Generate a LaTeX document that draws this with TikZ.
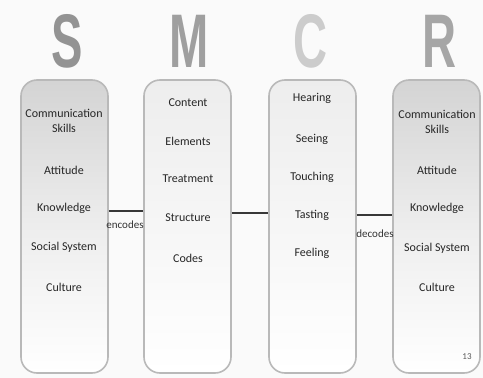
\documentclass[tikz,border=0pt]{standalone}
\usepackage{fontspec}
\setmainfont{Carlito}
\newfontfamily\letterfont{Liberation Sans}
\usetikzlibrary{calc}
\begin{document}
\begin{tikzpicture}[x=1pt,y=-1pt,
  col/.style={draw=gray!55, line width=1.6pt, rounded corners=16pt,
    minimum width=87pt, minimum height=293pt, inner sep=0pt},
  darkcol/.style={col, top color=gray!34, bottom color=white, middle color=gray!14},
  lightcol/.style={col, top color=gray!14, bottom color=white},
  item/.style={font=\fontsize{12}{12}\selectfont, text=black!85, align=center, inner sep=0pt},
  big/.style={font=\letterfont\bfseries\fontsize{76}{76}\selectfont, xscale=0.62, inner sep=0pt},
  link/.style={line width=2.8pt, draw=black!78},
  lab/.style={font=\fontsize{11}{11}\selectfont, text=black!80, inner sep=0pt}
]
\useasboundingbox (0,0) rectangle (483,378);
\fill[gray!4] (0,0) rectangle (483,378);

% column letters
\node[big, text=gray!85] (LS) at (67,41) {S};
\node[big, text=gray!75] (LM) at (189,41) {M};
\node[big, text=gray!40] (LC) at (311,41) {C};
\node[big, text=gray!70] (LR) at (440,41) {R};

% columns
\node[darkcol]  (S) at (64.5,226.5) {};
\node[lightcol] (M) at (187.5,226.5) {};
\node[lightcol] (C) at (312.5,226.5) {};
\node[darkcol]  (R) at (436.5,226.5) {};

% link heights
\coordinate (y1) at (0,211);
\coordinate (y2) at (0,213);
\coordinate (y3) at (0,215);
\draw[link] (S.east |- y1) -- (M.west |- y1);
\draw[link] (M.east |- y2) -- (C.west |- y2);
\draw[link] (C.east |- y3) -- (R.west |- y3);
\node[lab] (enc) at (125,225) {encodes};
\node[lab] (dec) at (375,234) {decodes};

% S items
\node[item] (s1) at (64,121) {Communication\\[3pt]Skills};
\node[item] (s2) at (64,170) {Attitude};
\node[item] (s3) at (64,208) {Knowledge};
\node[item] (s4) at (64,247) {Social System};
\node[item] (s5) at (64,287) {Culture};

% M items
\node[item] (m1) at (188,103) {Content};
\node[item] (m2) at (188,141) {Elements};
\node[item] (m3) at (188,179) {Treatment};
\node[item] (m4) at (188,218) {Structure};
\node[item] (m5) at (188,258) {Codes};

% C items
\node[item] (c1) at (312,98) {Hearing};
\node[item] (c2) at (312,139) {Seeing};
\node[item] (c3) at (312,177) {Touching};
\node[item] (c4) at (312,215) {Tasting};
\node[item] (c5) at (312,253) {Feeling};

% R items
\node[item] (r1) at (437,122) {Communication\\[3pt]Skills};
\node[item] (r2) at (437,170) {Attitude};
\node[item] (r3) at (437,208) {Knowledge};
\node[item] (r4) at (437,248) {Social System};
\node[item] (r5) at (437,287) {Culture};

\node[font=\fontsize{9}{9}\selectfont, text=black!65, inner sep=0pt] (pg) at (467,357) {13};
\end{tikzpicture}
\end{document}
